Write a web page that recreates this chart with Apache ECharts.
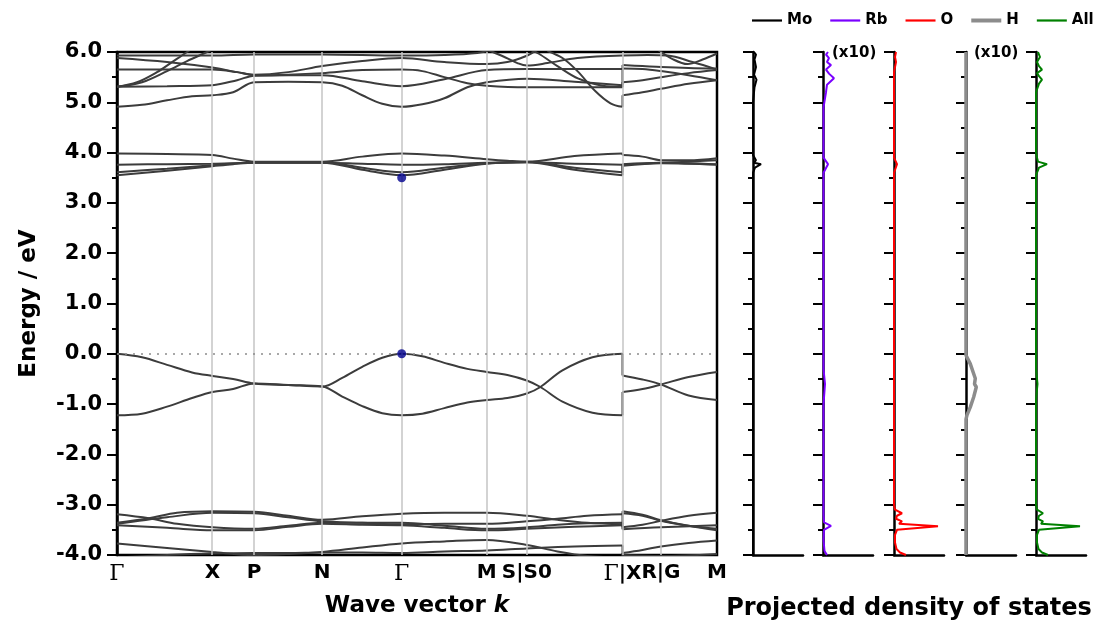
<!DOCTYPE html>
<html><head><meta charset="utf-8">
<script src="https://cdn.jsdelivr.net/npm/echarts@6/dist/echarts.min.js"></script>
<style>html,body{margin:0;padding:0;background:#fff}#c{width:1098px;height:623px}</style>
</head><body><div id="c"></div><script>
// ---- k-path ----
const kPos = [0, 0.954, 1.370, 2.050, 2.844, 3.694, 4.094, 5.050, 5.434, 5.994];
const kLabels = ['Γ','X','P','N','Γ','M','S|S0','Γ|X','R|G','M'];

// ---- valence bands near gap ----
const gapLeft = [
  [[0,0],[0.25,-0.07],[0.5,-0.22],[0.75,-0.37],[0.954,-0.44],[1.16,-0.50],[1.37,-0.59],[1.71,-0.62],[2.05,-0.65],[2.25,-0.48],[2.45,-0.26],[2.65,-0.08],[2.844,0],[3.05,-0.05],[3.27,-0.18],[3.5,-0.30],[3.694,-0.36],[3.9,-0.42],[4.094,-0.53],[4.23,-0.66],[4.45,-0.95],[4.75,-1.17],[5.05,-1.22]],
  [[0,-1.22],[0.25,-1.19],[0.5,-1.05],[0.75,-0.88],[0.954,-0.76],[1.16,-0.70],[1.37,-0.59],[1.71,-0.62],[2.05,-0.65],[2.25,-0.85],[2.45,-1.04],[2.65,-1.18],[2.844,-1.22],[3.05,-1.19],[3.27,-1.08],[3.5,-0.97],[3.694,-0.92],[3.9,-0.88],[4.094,-0.79],[4.23,-0.66],[4.45,-0.33],[4.75,-0.07],[5.05,0]]
];
const gapRight = [
  [[5.05,-0.76],[5.25,-0.70],[5.434,-0.61],[5.71,-0.46],[5.994,-0.36]],
  [[5.05,-0.43],[5.25,-0.51],[5.434,-0.61],[5.71,-0.83],[5.994,-0.92]]
];

// ---- conduction bands 3.5 - 4.0 eV ----
const cbLowLeft = [
  [[0,3.98],[0.5,3.97],[0.954,3.95],[1.16,3.88],[1.37,3.82],[1.71,3.82],[2.05,3.82],[2.45,3.92],[2.844,3.98],[3.27,3.94],[3.694,3.87],[3.9,3.84],[4.094,3.82],[4.57,3.93],[5.05,3.98]],
  [[0,3.76],[0.5,3.77],[0.954,3.78],[1.37,3.80],[2.05,3.80],[2.45,3.78],[2.844,3.76],[3.27,3.77],[3.694,3.80],[4.094,3.81],[4.57,3.78],[5.05,3.76]],
  [[0,3.61],[0.5,3.68],[0.954,3.75],[1.16,3.78],[1.37,3.81],[2.05,3.81],[2.45,3.70],[2.844,3.61],[3.27,3.70],[3.694,3.79],[4.094,3.82],[4.57,3.70],[5.05,3.61]],
  [[0,3.55],[0.5,3.64],[0.954,3.73],[1.16,3.77],[1.37,3.80],[2.05,3.80],[2.45,3.66],[2.844,3.55],[3.27,3.66],[3.694,3.78],[4.094,3.81],[4.57,3.66],[5.05,3.55]]
];
const cbLowRight = [
  [[5.05,3.95],[5.25,3.92],[5.434,3.85],[5.71,3.85],[5.994,3.89]],
  [[5.05,3.77],[5.434,3.80],[5.994,3.77]],
  [[5.05,3.76],[5.25,3.78],[5.434,3.80],[5.71,3.82],[5.994,3.85]],
  [[5.05,3.74],[5.434,3.79],[5.994,3.76]]
];

// ---- conduction bands 4.9 - 6.0 eV ----
const cbHighLeft = [
  [[0,4.91],[0.25,4.95],[0.5,5.04],[0.75,5.12],[0.954,5.14],[1.16,5.20],[1.37,5.40],[1.71,5.41],[2.05,5.40],[2.25,5.33],[2.45,5.14],[2.65,4.97],[2.844,4.91],[3.05,4.96],[3.27,5.08],[3.5,5.30],[3.694,5.40],[4.094,5.47],[4.57,5.41],[5.05,5.34]],
  [[0,5.31],[0.5,5.32],[0.954,5.34],[1.2,5.44],[1.37,5.53],[1.71,5.54],[2.05,5.54],[2.45,5.42],[2.844,5.32],[3.27,5.46],[3.694,5.64],[4.094,5.66],[4.57,5.66],[5.05,5.66]],
  [[0,5.31],[0.2,5.40],[0.4,5.60],[0.55,5.80],[0.70,6.0],[0.8,6.15]],
  [[0,5.31],[0.25,5.40],[0.5,5.62],[0.7,5.82],[0.90,6.0],[1.0,6.1]],
  [[0,5.65],[0.5,5.65],[0.954,5.65],[1.2,5.60],[1.37,5.54],[1.71,5.55],[2.05,5.58],[2.45,5.64],[2.844,5.65],[3.05,5.62],[3.27,5.50],[3.5,5.38],[3.694,5.33],[4.094,5.30],[4.57,5.30],[5.05,5.30]],
  [[0,5.88],[0.5,5.80],[0.954,5.69],[1.2,5.60],[1.37,5.55],[1.71,5.60],[2.05,5.72],[2.45,5.82],[2.844,5.88],[3.27,5.80],[3.694,5.76],[3.9,5.80],[4.1,5.93],[4.2,6.05]],
  [[0,5.93],[0.5,5.93],[0.954,5.93],[1.37,5.95],[2.05,5.95],[2.844,5.93],[3.27,5.94],[3.6,5.98],[3.75,6.05]],
  [[4.12,6.05],[4.21,5.97],[4.4,5.72],[4.61,5.47],[4.85,5.33],[5.05,5.31]],
  [[4.30,6.02],[4.45,5.88],[4.6,5.62],[4.78,5.22],[4.93,4.98],[5.05,4.91]],
  [[3.72,6.03],[3.85,5.92],[4.0,5.78],[4.094,5.73],[4.3,5.78],[4.6,5.88],[5.05,5.93]]
];
const cbHighRight = [
  [[5.05,5.40],[5.25,5.44],[5.434,5.50],[5.71,5.58],[5.994,5.64]],
  [[5.05,5.67],[5.25,5.66],[5.434,5.62],[5.71,5.54],[5.994,5.44]],
  null,
  null,
  [[5.05,5.74],[5.25,5.72],[5.434,5.70],[5.71,5.68],[5.994,5.67]],
  null,
  null,
  null,
  [[5.05,5.14],[5.25,5.20],[5.434,5.27],[5.71,5.37],[5.994,5.44]],
  [[5.05,5.93],[5.3,5.94],[5.5,5.93],[5.75,5.80],[5.994,5.65]]
];
const cbExtraRight = [
  [[5.40,6.05],[5.55,5.86],[5.7,5.76],[5.85,5.85],[5.994,5.97]]
];

// ---- valence bands -3.0 to -4.0 eV ----
const vbLowLeft = [
  [[0,-3.36],[0.32,-3.27],[0.6,-3.16],[0.954,-3.13],[1.37,-3.14],[1.71,-3.22],[2.05,-3.30],[2.45,-3.23],[2.844,-3.18],[3.27,-3.16],[3.694,-3.16],[4.094,-3.22],[4.4,-3.30],[4.7,-3.36],[5.05,-3.39]],
  [[0,-3.19],[0.32,-3.27],[0.6,-3.38],[0.954,-3.45],[1.37,-3.48],[1.71,-3.42],[2.05,-3.36],[2.45,-3.36],[2.844,-3.36],[3.27,-3.42],[3.694,-3.48],[4.094,-3.45],[4.4,-3.40],[4.7,-3.37],[5.05,-3.36]],
  [[0,-3.41],[0.5,-3.46],[0.954,-3.51],[1.37,-3.51],[1.71,-3.44],[2.05,-3.38],[2.45,-3.40],[2.844,-3.41],[3.27,-3.46],[3.694,-3.51],[4.094,-3.48],[4.57,-3.44],[5.05,-3.41]],
  [[0,-3.38],[0.5,-3.25],[0.954,-3.16],[1.37,-3.17],[1.71,-3.25],[2.05,-3.33],[2.45,-3.36],[2.844,-3.39],[3.27,-3.38],[3.694,-3.38],[4.094,-3.33],[4.4,-3.28],[4.7,-3.22],[5.05,-3.19]],
  [[0,-3.77],[0.5,-3.86],[0.954,-3.94],[1.37,-4.0],[1.71,-3.98],[2.05,-3.94],[2.45,-3.85],[2.844,-3.77],[3.27,-3.73],[3.694,-3.70],[4.094,-3.80],[4.4,-3.93],[4.7,-4.02],[5.05,-4.05]],
  [[0,-4.05],[0.5,-4.0],[0.954,-3.97],[1.37,-3.96],[1.71,-3.96],[2.05,-3.95],[2.45,-3.95],[2.844,-3.96],[3.27,-3.93],[3.694,-3.91],[4.094,-3.87],[4.57,-3.83],[5.05,-3.81]]
];
const vbLowRight = [
  [[5.05,-3.13],[5.25,-3.20],[5.434,-3.31],[5.71,-3.42],[5.994,-3.48]],
  [[5.05,-3.45],[5.25,-3.40],[5.434,-3.32],[5.71,-3.22],[5.994,-3.16]],
  [[5.05,-3.49],[5.434,-3.45],[5.994,-3.41]],
  [[5.05,-3.17],[5.25,-3.22],[5.434,-3.32],[5.71,-3.42],[5.994,-3.51]],
  [[5.05,-3.96],[5.25,-3.90],[5.434,-3.83],[5.71,-3.76],[5.994,-3.71]],
  [[5.05,-4.0],[5.434,-4.02],[5.994,-3.98]]
];

// ---- band edges marked at Gamma ----
const edgePoints = [[2.844, 3.5], [2.844, 0.0]];

// ---- projected density of states: [DOS, E] ----
const pdosNames = ['Mo', 'Rb', 'O', 'H', 'All'];
const pdosMo = [[0,-4],[0,3.6],[0.2,3.7],[0.8,3.77],[0.1,3.8],[0.3,3.85],[0,3.95],[0,5.0],[0.15,5.3],[0.35,5.45],[0.1,5.55],[0.3,5.7],[0.15,5.85],[0.3,5.95],[0.1,6]];
const pdosRb = [[0.4,-4],[0.15,-3.92],[0.05,-3.7],[0.1,-3.5],[0.8,-3.42],[0.1,-3.35],[0.05,-3.2],[0.05,-1.0],[0.2,-0.6],[0.05,-0.3],[0.05,3.6],[0.5,3.77],[0.05,3.9],[0.05,4.9],[0.3,5.2],[0.4,5.35],[1.1,5.48],[0.6,5.57],[0.3,5.65],[0.8,5.74],[0.4,5.8],[0.6,5.88],[0.3,5.95],[0.5,6.0]];
const pdosO = [[1.2,-4.0],[0.6,-3.95],[0.25,-3.88],[0.1,-3.75],[0.1,-3.6],[0.3,-3.5],[4.4,-3.43],[0.5,-3.38],[0.8,-3.33],[0.2,-3.28],[0.3,-3.22],[0.8,-3.17],[0.1,-3.1],[0,-3.0],[0,3.6],[0.3,3.77],[0,3.9],[0,5.6],[0.2,5.8],[0.1,5.9],[0.2,6]];
const pdosH = [[0,-4],[0,-1.3],[0.1,-1.22],[0.43,-1.06],[0.77,-0.86],[1.03,-0.66],[0.85,-0.6],[0.93,-0.49],[0.43,-0.2],[0,-0.03],[0,6]];
const pdosAll = [[1.2,-4.0],[0.6,-3.95],[0.25,-3.88],[0.1,-3.75],[0.1,-3.6],[0.3,-3.5],[4.4,-3.43],[0.5,-3.38],[0.7,-3.33],[0.2,-3.28],[0.3,-3.22],[0.7,-3.17],[0.1,-3.1],[0,-3.0],[0,-0.9],[0.15,-0.6],[0,-0.3],[0,3.55],[0.3,3.7],[1.1,3.77],[0.2,3.82],[0.1,3.9],[0,4.0],[0,5.2],[0.3,5.37],[0.6,5.45],[0.3,5.52],[0.1,5.58],[0.6,5.65],[0.3,5.72],[0.1,5.8],[0.4,5.9],[0.2,6.0]];
const pdosData = [pdosMo, pdosRb, pdosO, pdosH, pdosAll];
const pdosColors = ['#000000', '#7a00ff', '#ff0000', '#8c8c8c', '#008000'];
const pdosWidths = [2, 2, 2, 3.5, 2];

// ---------------- build option ----------------
const FONT = 'DejaVu Sans';
const bandColor = '#3c3c3c';
const gridTop = 52, gridH = 503;
const pdosLeft = [753, 823, 894, 966, 1036];

const grids = [{left: 117, top: gridTop, width: 600, height: gridH, show: true, borderColor: '#000', borderWidth: 2.5, outerBoundsMode: 'none', containLabel: false}];
pdosLeft.forEach(l => grids.push({left: l, top: gridTop, width: 50, height: gridH, outerBoundsMode: 'none', containLabel: false}));

const yAxisBase = (gi, labels) => ({
  gridIndex: gi, type: 'value', min: -4, max: 6, interval: 1,
  axisLine: {show: true, onZero: false, lineStyle: {color: '#000', width: 2.5}},
  axisTick: {show: true, inside: false, length: 10, lineStyle: {color: '#000', width: 2}},
  minorTick: {show: true, splitNumber: 2, length: 5, lineStyle: {color: '#000', width: 2}},
  splitLine: {show: false},
  axisLabel: labels ? {show: true, formatter: v => v.toFixed(1), fontFamily: FONT, fontWeight: 'bold', fontSize: 21, color: '#000', margin: 15} : {show: false}
});

const yAxes = [Object.assign(yAxisBase(0, true), {
  name: 'Energy / eV', nameLocation: 'middle', nameGap: 76,
  nameTextStyle: {fontFamily: FONT, fontWeight: 'bold', fontSize: 23, color: '#000'}
})];
for (let i = 1; i <= 5; i++) yAxes.push(yAxisBase(i, false));

function kLabel(v) {
  let best = 0;
  kPos.forEach((k, i) => { if (Math.abs(k - v) < Math.abs(kPos[best] - v)) best = i; });
  return kLabels[best].split('Γ').join('{g|Γ}');
}

const xAxes = [{
  gridIndex: 0, type: 'value', min: kPos[0], max: kPos[kPos.length - 1],
  axisLine: {show: false}, axisTick: {show: false}, splitLine: {show: false},
  axisLabel: {
    show: true, customValues: kPos, formatter: kLabel, margin: 8,
    fontFamily: FONT, fontWeight: 'bold', fontSize: 20, color: '#000',
    rich: {g: {fontFamily: 'DejaVu Serif', fontWeight: 'normal', fontSize: 22, color: '#000'}}
  },
  name: '{a|Wave vector }{b|k}', nameLocation: 'middle', nameGap: 40,
  nameTextStyle: {rich: {
    a: {fontFamily: FONT, fontWeight: 'bold', fontSize: 23, color: '#000'},
    b: {fontFamily: FONT, fontWeight: 'bold', fontStyle: 'italic', fontSize: 23, color: '#000'}
  }}
}];
for (let i = 1; i <= 5; i++) {
  const ax = {
    gridIndex: i, type: 'value', min: 0, max: 5,
    axisLine: {show: true, onZero: false, lineStyle: {color: '#000', width: 2.5}},
    axisTick: {show: false}, axisLabel: {show: false}, splitLine: {show: false}
  };
  if (i === 3) {
    ax.name = 'Projected density of states';
    ax.nameLocation = 'middle';
    ax.nameGap = 42;
    ax.nameTextStyle = {fontFamily: FONT, fontWeight: 'bold', fontSize: 24, color: '#000', padding: [0, 20, 0, 0]};
  }
  xAxes.push(ax);
}

const series = [];
// guide lines at high-symmetry points
series.push({
  type: 'line', xAxisIndex: 0, yAxisIndex: 0, data: [], silent: true, z: 1,
  markLine: {silent: true, symbol: ['none', 'none'], label: {show: false}, animation: false,
    lineStyle: {color: '#c4c4c4', width: 1.5, type: 'solid'},
    data: kPos.slice(1, -1).map(k => ({xAxis: k}))}
});
// Fermi level
series.push({
  type: 'line', xAxisIndex: 0, yAxisIndex: 0, data: [], silent: true, z: 1,
  markLine: {silent: true, symbol: ['none', 'none'], label: {show: false}, animation: false,
    lineStyle: {color: '#8c8c8c', width: 1.6, type: [2, 6]},
    data: [{yAxis: 0}]}
});

function addBand(d) {
  series.push({type: 'line', xAxisIndex: 0, yAxisIndex: 0, data: d, showSymbol: false, symbol: 'none',
    smooth: 0.35, silent: true, z: 3, animation: false, lineStyle: {color: bandColor, width: 2}});
}
function addJump(a, b) {
  series.push({type: 'line', xAxisIndex: 0, yAxisIndex: 0, data: [a, b], showSymbol: false, symbol: 'none',
    silent: true, z: 3, animation: false, lineStyle: {color: bandColor, width: 2}});
}
function addGroup(left, right) {
  left.forEach((l, i) => {
    addBand(l);
    const r = right[i];
    if (r) {
      addBand(r);
      addJump(l[l.length - 1], r[0]);
    }
  });
}
addGroup(gapLeft, gapRight);
addGroup(cbLowLeft, cbLowRight);
addGroup(cbHighLeft, cbHighRight);
addGroup(vbLowLeft, vbLowRight);
cbExtraRight.forEach(addBand);

series.push({type: 'scatter', xAxisIndex: 0, yAxisIndex: 0, data: edgePoints, symbolSize: 9, z: 5,
  itemStyle: {color: '#00008f'}, silent: true, animation: false});

pdosNames.forEach((n, i) => {
  series.push({name: n, type: 'line', xAxisIndex: i + 1, yAxisIndex: i + 1, data: pdosData[i],
    showSymbol: false, symbol: 'none', clip: false, z: 4, animation: false,
    lineStyle: {color: pdosColors[i], width: pdosWidths[i]}, itemStyle: {color: pdosColors[i]}});
});

const thinIcon = 'path://M0,0h30v2.2h-30z';
const thickIcon = 'path://M0,0h30v4h-30z';

const option = {
  backgroundColor: '#ffffff',
  animation: false,
  grid: grids, xAxis: xAxes, yAxis: yAxes, series: series,
  legend: {
    data: pdosNames.map(n => ({name: n, icon: n === 'H' ? thickIcon : thinIcon})),
    left: 752, top: 13, width: 346, orient: 'horizontal',
    itemWidth: 30, itemHeight: 14, itemGap: 18, padding: 0,
    textStyle: {fontFamily: FONT, fontWeight: 'bold', fontSize: 15, color: '#000'}
  },
  graphic: [
    {type: 'text', left: 832, top: 46, style: {text: '(x10)', font: 'bold 15px "DejaVu Sans"', fill: '#000'}},
    {type: 'text', left: 974, top: 46, style: {text: '(x10)', font: 'bold 15px "DejaVu Sans"', fill: '#000'}}
  ]
};

const chart = echarts.init(document.getElementById('c'), null, {renderer: 'canvas'});
chart.setOption(option);
</script></body></html>
